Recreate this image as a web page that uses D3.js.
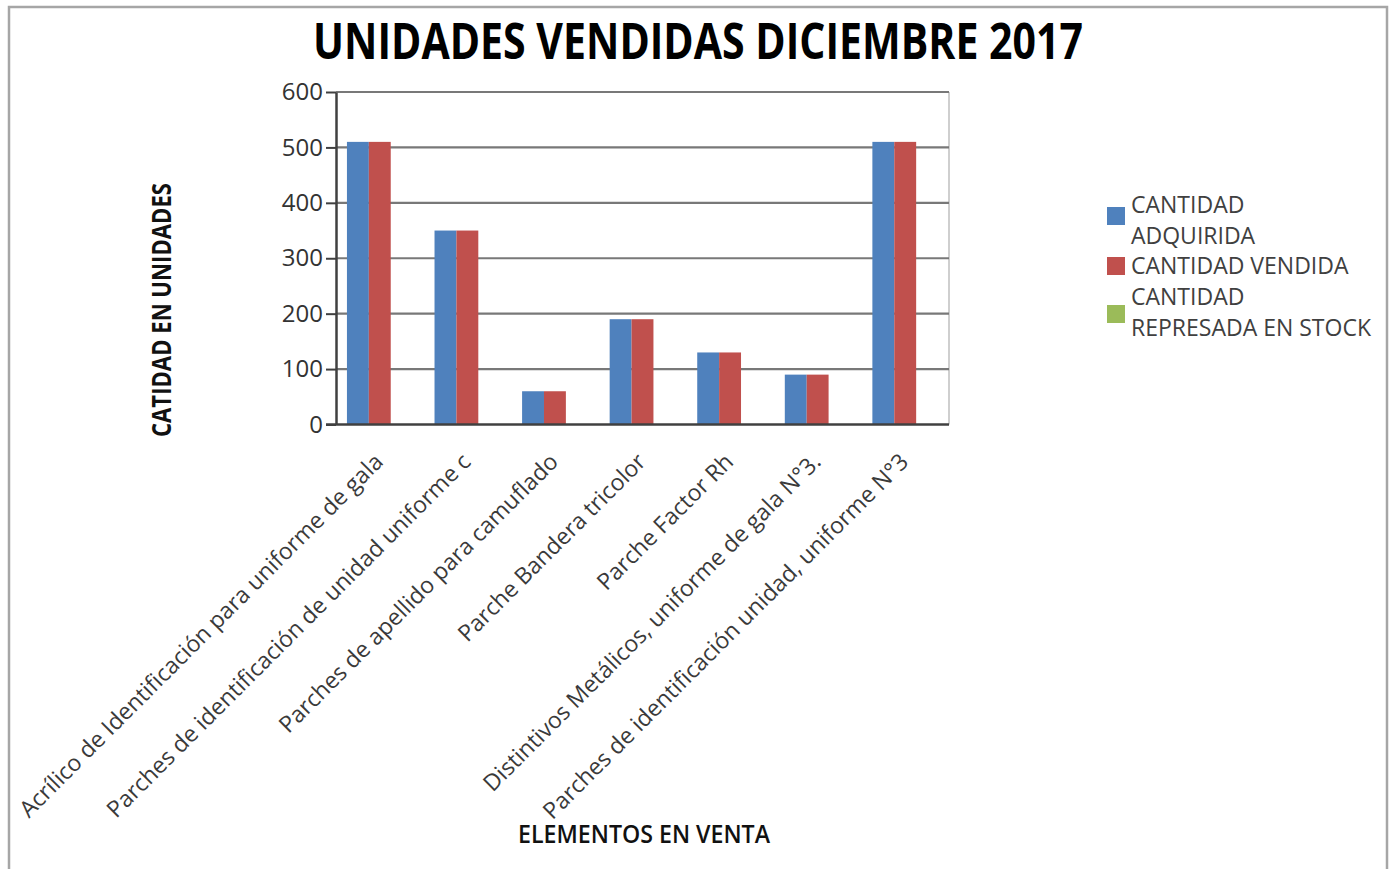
<!DOCTYPE html>
<html>
<head>
<meta charset="utf-8">
<script src="https://cdn.jsdelivr.net/npm/d3@7"></script>
<style>
  body { margin: 0; background: #fff; }
  text { font-family: "Open Sans", "Noto Sans", sans-serif; }
</style>
</head>
<body>
<svg></svg>
<script>
var width = 1390;
var height = 869;

var categories = [
  "Acrílico de Identificación para uniforme de gala",
  "Parches de identificación de unidad uniforme c",
  "Parches de apellido para camuflado",
  "Parche Bandera tricolor",
  "Parche Factor Rh",
  "Distintivos Metálicos, uniforme de gala N°3.",
  "Parches de identificación unidad, uniforme N°3"
];
var seriesNames = ["CANTIDAD ADQUIRIDA", "CANTIDAD VENDIDA", "CANTIDAD REPRESADA EN STOCK"];
var adquirida = [510, 350, 60, 190, 130, 90, 510];
var vendida = [510, 350, 60, 190, 130, 90, 510];
var stock = [0, 0, 0, 0, 0, 0, 0];
var yTicks = [0, 100, 200, 300, 400, 500, 600];
var legendLines = [["CANTIDAD", "ADQUIRIDA"], ["CANTIDAD VENDIDA"], ["CANTIDAD", "REPRESADA EN STOCK"]];
var colors = ["#4f81bd", "#c0504d", "#9bbb59"];

var svg = d3
  .select("svg")
  .attr("width", width)
  .attr("height", height);

var plot = { left: 336, right: 949, top: 92, bottom: 424.5 };

// outer chart border
svg
  .append("rect")
  .attr("x", 9)
  .attr("y", 7)
  .attr("width", 1378)
  .attr("height", 900)
  .attr("fill", "none")
  .attr("stroke", "#a6a6a6")
  .attr("stroke-width", 2.5);

var xScale = d3
  .scaleBand()
  .domain(categories)
  .range([plot.left, plot.right])
  .paddingInner(0.25)
  .paddingOuter(0.125);

var xSub = d3
  .scaleBand()
  .domain(seriesNames)
  .range([0, xScale.bandwidth()]);

var yScale = d3
  .scaleLinear()
  .domain([0, 600])
  .range([plot.bottom, plot.top]);

// plot area right edge
svg
  .append("line")
  .attr("x1", plot.right)
  .attr("x2", plot.right)
  .attr("y1", plot.top)
  .attr("y2", plot.bottom)
  .attr("stroke", "#bfbfbf")
  .attr("stroke-width", 1.5);

// gridlines
svg
  .selectAll(".grid")
  .data(yTicks.filter(d => d > 0))
  .enter()
  .append("line")
  .attr("class", "grid")
  .attr("x1", plot.left)
  .attr("x2", plot.right)
  .attr("y1", d => yScale(d))
  .attr("y2", d => yScale(d))
  .attr("stroke", "#787878")
  .attr("stroke-width", 2.2);

// bars
var rows = categories.map((c, i) => ({ cat: c, values: [adquirida[i], vendida[i], stock[i]] }));

var groups = svg
  .selectAll(".group")
  .data(rows)
  .enter()
  .append("g")
  .attr("class", "group")
  .attr("transform", d => "translate(" + xScale(d.cat) + ",0)");

groups
  .selectAll("rect")
  .data(d => d.values.map((v, j) => ({ name: seriesNames[j], value: v, color: colors[j] })))
  .enter()
  .append("rect")
  .attr("x", d => xSub(d.name))
  .attr("y", d => yScale(d.value))
  .attr("width", xSub.bandwidth())
  .attr("height", d => yScale(0) - yScale(d.value))
  .attr("fill", d => d.color);

// y axis
var yAxis = svg
  .append("g")
  .attr("transform", "translate(" + plot.left + ",0)")
  .call(d3.axisLeft(yScale).tickValues(yTicks).tickSize(10).tickSizeOuter(0).tickPadding(3));

yAxis.select(".domain").attr("stroke", "#404040").attr("stroke-width", 2.5);
yAxis.selectAll(".tick line").attr("stroke", "#404040").attr("stroke-width", 2);
yAxis
  .selectAll(".tick text")
  .attr("fill", "#333")
  .style("font-size", "24px");

// x axis line
svg
  .append("line")
  .attr("x1", plot.left - 10)
  .attr("x2", plot.right)
  .attr("y1", plot.bottom)
  .attr("y2", plot.bottom)
  .attr("stroke", "#404040")
  .attr("stroke-width", 2.5);

// rotated category labels
svg
  .selectAll(".xlabel")
  .data(categories)
  .enter()
  .append("text")
  .attr("class", "xlabel")
  .attr("text-anchor", "end")
  .attr("dy", "0.35em")
  .attr("transform", d => "translate(" + (xScale(d) + xScale.bandwidth() / 2 - 1) + "," + (plot.bottom + 33) + ") rotate(-45)")
  .attr("fill", "#3a3a3a")
  .style("font-size", "23px")
  .text(d => d);

// title
svg
  .append("text")
  .attr("x", 698)
  .attr("y", 59)
  .attr("text-anchor", "middle")
  .attr("textLength", 770)
  .attr("lengthAdjust", "spacingAndGlyphs")
  .style("font-size", "51px")
  .style("font-weight", "bold")
  .attr("fill", "#000")
  .text("UNIDADES VENDIDAS DICIEMBRE 2017");

// y axis title
svg
  .append("text")
  .attr("transform", "translate(171,310) rotate(-90)")
  .attr("text-anchor", "middle")
  .attr("textLength", 254)
  .attr("lengthAdjust", "spacingAndGlyphs")
  .style("font-size", "26px")
  .style("font-weight", "bold")
  .attr("fill", "#111")
  .text("CATIDAD EN UNIDADES");

// x axis title
svg
  .append("text")
  .attr("x", 644)
  .attr("y", 843)
  .attr("text-anchor", "middle")
  .attr("textLength", 252)
  .attr("lengthAdjust", "spacingAndGlyphs")
  .style("font-size", "25px")
  .style("font-weight", "600")
  .attr("fill", "#111")
  .text("ELEMENTOS EN VENTA");

// legend
var legendTop = [195, 256, 287];
var legend = svg
  .selectAll(".legend")
  .data(seriesNames)
  .enter()
  .append("g")
  .attr("class", "legend");

legend
  .append("rect")
  .attr("x", 1107)
  .attr("y", (d, i) => [207, 257, 305][i])
  .attr("width", 18)
  .attr("height", 18)
  .attr("fill", (d, i) => colors[i]);

legend.each(function(d, i) {
  d3.select(this)
    .selectAll("text")
    .data(legendLines[i])
    .enter()
    .append("text")
    .attr("x", 1131)
    .attr("y", (t, k) => legendTop[i] + 18 + k * 31)
    .style("font-size", "23px")
    .attr("fill", "#404040")
    .text(t => t);
});
</script>
</body>
</html>
